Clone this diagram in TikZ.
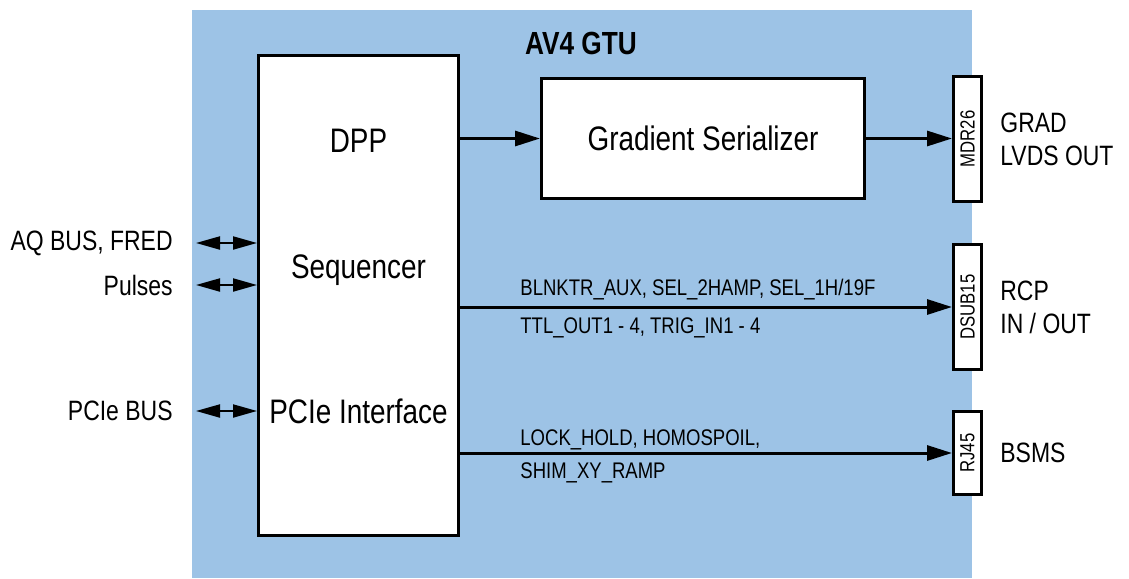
\documentclass[tikz,border=0pt]{standalone}
\usepackage{fontspec}
\setmainfont{Liberation Sans}[FakeStretch=0.82]
\usepackage{tikz}
\usetikzlibrary{arrows.meta,positioning}
\definecolor{PanelBlue}{RGB}{157,195,230}

\begin{document}
\begin{tikzpicture}[
        x=0.5pt, y=-0.5pt,
        >={Triangle[length=12.5pt,width=7.5pt]},
        box/.style={draw, line width=1.5pt, fill=white, inner sep=0pt},
        conn/.style={box, minimum width=14pt},
        big/.style={font=\fontsize{17}{20}\selectfont},
        lab/.style={font=\fontsize{14}{16.5}\selectfont, inner sep=0pt},
        sig/.style={font=\fontsize{11.3}{13}\selectfont, anchor=base west, inner sep=0pt},
        pin/.style={font=\fontsize{10.2}{12}\selectfont, rotate=90, inner sep=0pt},
        link/.style={->, line width=1.5pt},
        bus/.style={{Triangle[length=12pt,width=6.5pt]}-{Triangle[length=12pt,width=6.5pt]}, line width=1pt}
    ]
    \useasboundingbox (0,0) rectangle (1129,578);
    \fill[PanelBlue] (192,10) rectangle (972,578);
    \node[font=\bfseries\fontsize{16}{19}\selectfont] (title) at (581,43) {AV4 GTU};

    % main blocks
    \node[box, minimum width=100pt, minimum height=240pt] (dpp) at (358.5,295.5) {};
    \node[big, anchor=base] (dpptxt) at (358.5,152) {DPP};
    \node[big, anchor=base] (seqtxt) at (358.5,278) {Sequencer};
    \node[big, anchor=base] (pcietxt) at (358.5,423) {PCIe Interface};
    \node[box, big, minimum width=161.5pt, minimum height=60pt] (gser) at (703,138.5) {Gradient Serializer};

    % connectors
    \node[conn, minimum height=62.5pt] (mdr) at (967.5,139) {};
    \node[conn, minimum height=62.5pt] (dsub) at (967.5,307) {};
    \node[conn, minimum height=41.5pt] (rj) at (967.5,453) {};
    \node[pin] (mdrtxt) at (mdr) {MDR26};
    \node[pin] (dsubtxt) at (dsub) {DSUB15};
    \node[pin] (rjtxt) at (rj) {RJ45};
    \node[lab, align=left, right=8.5pt of mdr] (gradlab) {GRAD\\LVDS OUT};
    \node[lab, align=left, right=8.5pt of dsub] (rcplab) {RCP\\IN / OUT};
    \node[lab, align=left, right=8.5pt of rj] (bsmslab) {BSMS};

    % outputs
    \draw[link] (dpp.east |- gser.west) -- (gser.west);
    \draw[link] (gser.east) -- (gser.east -| mdr.west);
    \draw[link] (dpp.east |- dsub.west) -- (dsub.west);
    \draw[link] (dpp.east |- rj.west) -- (rj.west);
    \node[sig] (sigrcpa) at (520,295) {BLNKTR\_AUX, SEL\_2HAMP, SEL\_1H/19F};
    \node[sig] (sigrcpb) at (520,333) {TTL\_OUT1 - 4, TRIG\_IN1 - 4};
    \node[sig] (sigbsmsa) at (520,445) {LOCK\_HOLD, HOMOSPOIL,};
    \node[sig] (sigbsmsb) at (520,478) {SHIM\_XY\_RAMP};

    % host side buses
    \coordinate (aqend) at (196,243);
    \coordinate (pulend) at (196,285);
    \coordinate (pciend) at (196,411);
    \draw[bus] (aqend) -- (dpp.west |- aqend);
    \draw[bus] (pulend) -- (dpp.west |- pulend);
    \draw[bus] (pciend) -- (dpp.west |- pciend);
    \node[lab, left=11.5pt of aqend] (aqlab) {AQ BUS, FRED};
    \node[lab, left=11.5pt of pulend] (pullab) {Pulses};
    \node[lab, left=11.5pt of pciend] (pcilab) {PCIe BUS};
\end{tikzpicture}
\end{document}
